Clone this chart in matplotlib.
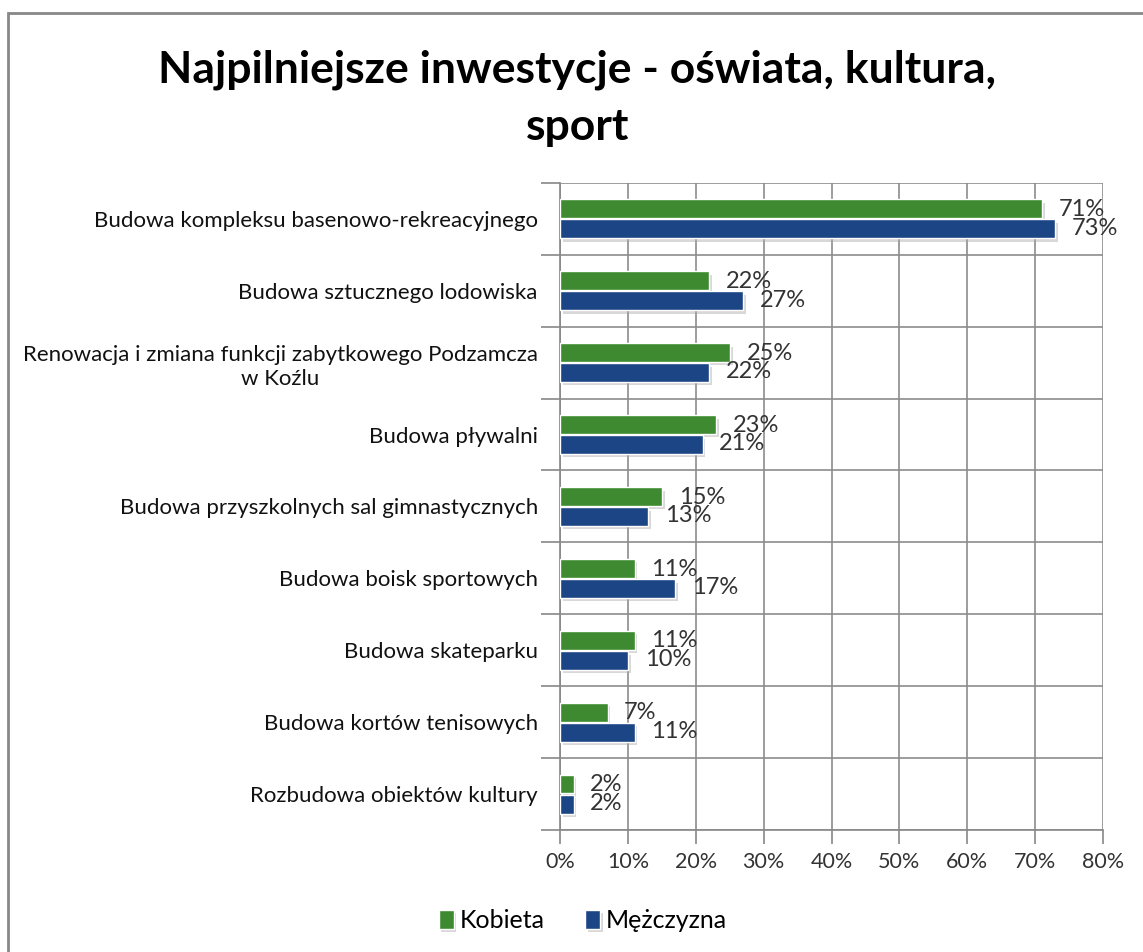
import matplotlib.pyplot as plt
import matplotlib.patheffects as pe
from matplotlib.patches import Rectangle

# Dane
kategorie = [
    "Budowa kompleksu basenowo-rekreacyjnego",
    "Budowa sztucznego lodowiska",
    "Renowacja i zmiana funkcji zabytkowego Podzamcza\nw Koźlu",
    "Budowa pływalni",
    "Budowa przyszkolnych sal gimnastycznych",
    "Budowa boisk sportowych",
    "Budowa skateparku",
    "Budowa kortów tenisowych",
    "Rozbudowa obiektów kultury",
]
kobieta = [71, 22, 25, 23, 15, 11, 11, 7, 2]
mezczyzna = [73, 27, 22, 21, 13, 17, 10, 11, 2]
etykiety_x = ["0%", "10%", "20%", "30%", "40%", "50%", "60%", "70%", "80%"]

ZIELONY = "#3d8a30"
NIEBIESKI = "#1b4585"

plt.rcParams["font.family"] = ["Lato", "DejaVu Sans"]

fig = plt.figure(figsize=(11.43, 9.52), dpi=100)
ax = fig.add_axes([0.49, 0.128, 0.475, 0.68])

n = len(kategorie)
pozycje = list(range(n))
h = 0.26
cien = [pe.SimplePatchShadow(offset=(2, -2.5), shadow_rgbFace="#aaaaaa", alpha=0.45), pe.Normal()]

b1 = ax.barh([p - h / 2 - 0.01 for p in pozycje], kobieta, height=h, color=ZIELONY,
             edgecolor="white", linewidth=1, label="Kobieta", zorder=3)
b2 = ax.barh([p + h / 2 + 0.01 for p in pozycje], mezczyzna, height=h, color=NIEBIESKI,
             edgecolor="white", linewidth=1, label="Mężczyzna", zorder=3)
for b in list(b1) + list(b2):
    b.set_path_effects(cien)

for p, k, m in zip(pozycje, kobieta, mezczyzna):
    ax.annotate(f"{k}%", (k, p - h / 2), xytext=(12, 0), textcoords="offset points",
                va="center", ha="left", fontsize=17, color="#333333", zorder=4)
    ax.annotate(f"{m}%", (m, p + h / 2), xytext=(12, 0), textcoords="offset points",
                va="center", ha="left", fontsize=17, color="#333333", zorder=4)

ax.set_xlim(0, 80)
ax.set_ylim(n - 0.5, -0.5)
ax.set_xticks(range(0, 81, 10))
ax.set_xticklabels(etykiety_x, fontsize=15.5, color="#333333")
ax.set_yticks(pozycje)
ax.set_yticklabels(kategorie, fontsize=16, color="#111111", linespacing=1.3,
                   multialignment="center")
ax.set_yticks([p + 0.5 for p in range(-1, n)], minor=True)
ax.tick_params(axis="y", which="major", length=0, pad=16)
ax.tick_params(axis="y", which="minor", length=14, color="#888888", width=1.2)
ax.tick_params(axis="x", length=10, color="#888888", width=1.2, pad=6)

ax.grid(True, axis="x", color="#8c8c8c", linewidth=1.2, zorder=0)
ax.grid(True, axis="y", which="minor", color="#8c8c8c", linewidth=1.2, zorder=0)
for s in ["top", "right"]:
    ax.spines[s].set_visible(False)
ax.spines["left"].set_color("#888888")
ax.spines["bottom"].set_color("#888888")
ax.spines["left"].set_linewidth(1.2)
ax.spines["bottom"].set_linewidth(1.2)

fig.text(0.505, 0.897, "Najpilniejsze inwestycje - oświata, kultura,\nsport", ha="center",
         va="center", fontsize=32, fontweight="bold", linespacing=1.5)

fig.legend(handles=[b1, b2], loc="center", bbox_to_anchor=(0.51, 0.033), ncol=2, frameon=False,
           fontsize=18, handlelength=0.6, handleheight=0.8, handletextpad=0.25, columnspacing=1.6)

fig.patches.append(Rectangle((0.007, -0.05), 1.2, 1.036, transform=fig.transFigure,
                             fill=False, edgecolor="#888888", linewidth=2))

fig.savefig("out.png", dpi=100)
